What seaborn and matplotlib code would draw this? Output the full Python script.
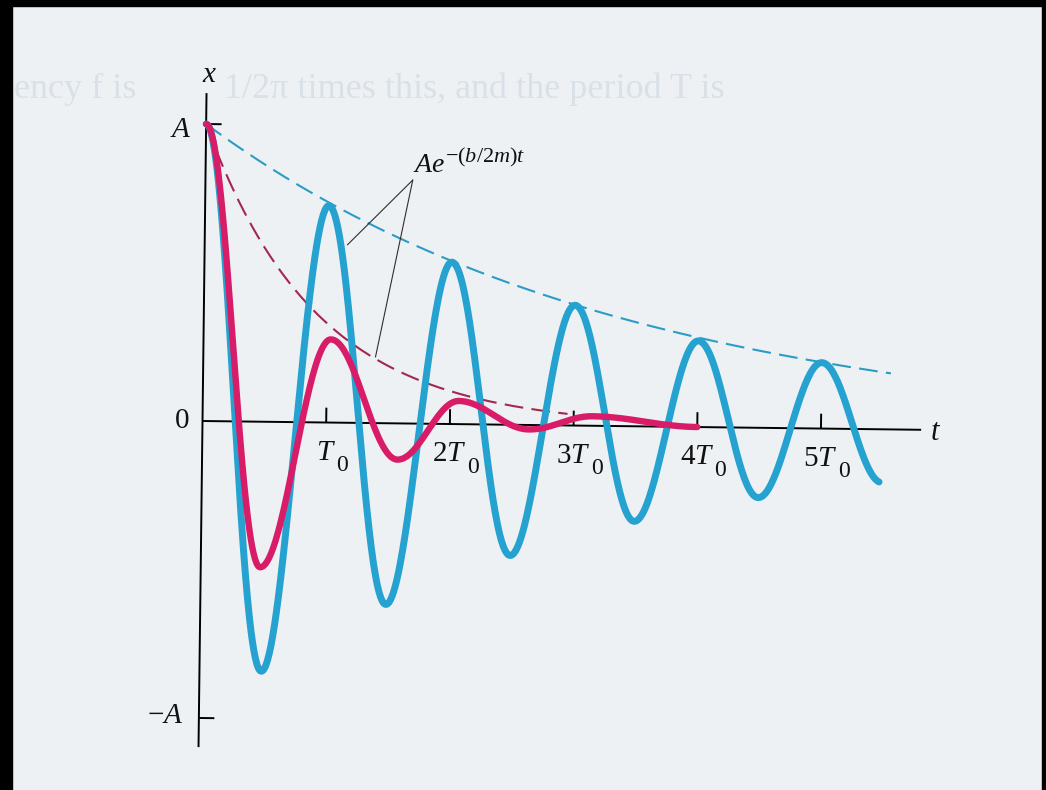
import numpy as np
import pandas as pd
import matplotlib
matplotlib.use("Agg")
import matplotlib.pyplot as plt
import seaborn as sns
from matplotlib.transforms import Affine2D
from matplotlib.patches import Rectangle

# ---------------------------------------------------------------------------
# Data: times in units of T0, displacement in units of A
# ---------------------------------------------------------------------------
# successive turning points of the lightly damped oscillation
blue_turn_t = [0.0, 0.5, 1.0, 1.5, 2.0, 2.5, 3.0, 3.5, 4.0, 4.5, 5.0, 5.5]
blue_turn_x = [1.0, -0.84, 0.73, -0.61, 0.545, -0.44, 0.405, -0.32, 0.29, -0.235, 0.222, -0.18]
blue_end_t = 5.48

# successive turning points of the strongly damped oscillation
red_turn_t = [0.0, 0.48, 1.03, 1.58, 2.07, 2.64, 3.15, 4.0]
red_turn_x = [1.0, -0.49, 0.28, -0.122, 0.078, -0.015, 0.032, 0.0]

# envelope decay constants b/2m (per T0) and how far each dashed curve runs
envelope_rate = [0.30, 1.10]
envelope_end = [5.56, 2.95]

tick_periods = [1, 2, 3, 4, 5]
tick_prefix = ["", "2", "3", "4", "5"]

# leader lines from the envelope label
leader_from = (1.676, 0.820)
leader_to_t = [1.154, 1.392]
leader_to_x = [0.599, 0.2226]

# ---------------------------------------------------------------------------
BG = "#edf1f4"
GHOST = "#d9e0e7"
BLUE = "#25a2cf"
BLUE_DASH = "#2b9cc6"
RED = "#d81c68"
RED_DASH = "#a3284f"
INK = "#111111"

sns.set_style("white")
plt.rcParams.update({
    "font.family": ["Liberation Serif", "DejaVu Serif"],
    "mathtext.fontset": "custom",
    "mathtext.rm": "Liberation Serif",
    "mathtext.it": "Liberation Serif:italic",
    "mathtext.bf": "Liberation Serif:bold",
})

W, H = 1046, 790
fig = plt.figure(figsize=(W / 100, H / 100), dpi=100)
fig.patch.set_facecolor(BG)
ax = fig.add_axes([0, 0, 1, 1])
ax.set_facecolor(BG)
ax.axis("off")

# origin of the graph in pixels and scale of one T0 / one A
ox, oy = 202.5, H - 421
px_T, px_A = 123.7, 297.0
ax.set_xlim(-ox / px_T, (W - ox) / px_T)
ax.set_ylim(-oy / px_A, (H - oy) / px_A)

# the printed figure sits slightly tilted on the page
tr = ax.transData + Affine2D().rotate_deg_around(ox, oy, -0.7)


def eased(tk, xk, n=80):
    ts, xs = [], []
    for i in range(len(tk) - 1):
        s = np.linspace(0, 1, n, endpoint=False)
        ts.append(tk[i] + (tk[i + 1] - tk[i]) * s)
        xs.append(xk[i] + (xk[i + 1] - xk[i]) * (1 - np.cos(np.pi * s)) / 2)
    ts.append([tk[-1]])
    xs.append([xk[-1]])
    return np.concatenate(ts), np.concatenate(xs)


def draw_line(df, **kw):
    n0 = len(ax.lines)
    sns.lineplot(data=df, x="t", y="x", ax=ax, legend=False, **kw)
    for ln in ax.lines[n0:]:
        ln.set_transform(tr)
    return ax.lines[n0:]


# faint print showing through from the other side of the page
fig.text(14 / W, 1 - 98 / H, "ency f is", fontsize=26, color=GHOST,
         va="baseline", ha="left", zorder=0)
fig.text(224 / W, 1 - 98 / H, "1/2π times this, and the period T is",
         fontsize=26, color=GHOST, va="baseline", ha="left", zorder=0)

# axes
axis_kw = dict(color="black", lw=1.4, solid_capstyle="butt", zorder=3)
draw_line(pd.DataFrame({"t": [0.0, 0.0001], "x": [-1.098, 1.104]}), **axis_kw)
draw_line(pd.DataFrame({"t": [0.0, 5.81], "x": [0.0, 0.0]}), **axis_kw)
for v in (1, -1):
    draw_line(pd.DataFrame({"t": [0.0, 0.125], "x": [v, v]}), **axis_kw)
for k in tick_periods:
    draw_line(pd.DataFrame({"t": [k, k + 1e-4], "x": [0.0, 0.05]}), **axis_kw)

# envelopes A e^{-(b/2m)t}
for rate, t_end, col in zip(envelope_rate, envelope_end, [BLUE_DASH, RED_DASH]):
    te = np.linspace(0, t_end, 300)
    draw_line(pd.DataFrame({"t": te, "x": np.exp(-rate * te)}),
              color=col, lw=1.5, linestyle=(0, (9, 4)), zorder=4)

# oscillations
bt, bx = eased(blue_turn_t, blue_turn_x)
keep = bt <= blue_end_t
draw_line(pd.DataFrame({"t": bt[keep], "x": bx[keep]}),
          color=BLUE, lw=5.0, solid_capstyle="round", zorder=5)
rt, rx = eased(red_turn_t, red_turn_x)
draw_line(pd.DataFrame({"t": rt, "x": rx}),
          color=RED, lw=4.6, solid_capstyle="round", zorder=6)

# leader lines
for lt, lx in zip(leader_to_t, leader_to_x):
    draw_line(pd.DataFrame({"t": [leader_from[0], lt], "x": [leader_from[1], lx]}),
              color="#2e2e2e", lw=0.8, zorder=7)

# labels
lab = dict(transform=tr, color=INK, zorder=8)
ax.text(0.023, 1.165, "$x$", fontsize=21, ha="center", va="center", **lab)
ax.text(-0.118, 0.98, "$A$", fontsize=21, ha="right", va="center", **lab)
ax.text(-0.106, 0.0, "0", fontsize=21, ha="right", va="center", **lab)
ax.text(-0.125, -0.994, "$-A$", fontsize=21, ha="right", va="center", **lab)
ax.text(5.93, -0.01, "$t$", fontsize=22, ha="center", va="center", **lab)

env_lab = ax.text(1.675, 0.847, "$Ae$", fontsize=20, ha="left",
                  va="baseline", **lab)
ax.annotate("$-(b/2m)t$", xy=(1, 0), xycoords=env_lab, xytext=(0.3, 11.5),
            textcoords="offset points", fontsize=16, ha="left",
            va="baseline", color=INK, zorder=8)

for k, pre in zip(tick_periods, tick_prefix):
    main = ax.text(k, -0.125, f"${pre}T$", fontsize=21, ha="center",
                   va="baseline", **lab)
    ax.annotate("0", xy=(1, 0), xycoords=main, xytext=(0.4, 0.0),
                textcoords="offset points", fontsize=17, ha="left",
                va="center", color=INK, zorder=8)

# dark scanner border
for x0, y0, w, h in [(0, 0, 12, H), (0, H - 6, W, 6), (1042, 0, 4, H)]:
    fig.add_artist(Rectangle((x0 / W, y0 / H), w / W, h / H,
                             transform=fig.transFigure, color="black",
                             zorder=20))

fig.savefig("out.png", dpi=100, facecolor=BG)
